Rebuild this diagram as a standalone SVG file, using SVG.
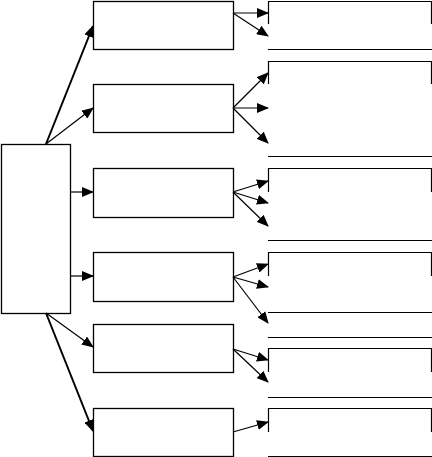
<svg xmlns="http://www.w3.org/2000/svg" width="432" height="457" viewBox="0 0 432 457">
<style>
.box{fill:#fff;stroke:#000;stroke-width:1.3}
.rb{fill:none;stroke:#000;stroke-width:1.2}
.c{fill:none;stroke:#000;stroke-width:1.2;marker-end:url(#ah)}
.t{fill:none;stroke:#000;stroke-width:2;marker-end:url(#ah)}
</style>
<defs>
<marker id="ah" markerUnits="userSpaceOnUse" markerWidth="12" markerHeight="10" viewBox="0 0 12 10" refX="11" refY="5" orient="auto">
<path d="M0,0 L12,5 L0,10 Z" fill="#000"/>
</marker>
</defs>
<rect width="432" height="457" fill="#fff"/>
<g id="root"><rect class="box" x="1.5" y="144.5" width="69" height="169"/></g>
<g id="m1"><rect class="box" x="93.5" y="1.5" width="140" height="48"/></g>
<g id="m2"><rect class="box" x="93.5" y="84.5" width="140" height="48"/></g>
<g id="m3"><rect class="box" x="93.5" y="168.5" width="140" height="49"/></g>
<g id="m4"><rect class="box" x="93.5" y="252.5" width="140" height="49"/></g>
<g id="m5"><rect class="box" x="93.5" y="324.5" width="140" height="48"/></g>
<g id="m6"><rect class="box" x="93.5" y="408.5" width="140" height="48"/></g>
<g id="r1"><path class="rb" d="M268.5,24 V1.5 H431.5 V24 M268,49.5 H432"/></g>
<g id="r2"><path class="rb" d="M268.5,84 V61.5 H431.5 V84 M268,156.5 H432"/></g>
<g id="r3"><path class="rb" d="M268.5,192 V168.5 H431.5 V192 M268,240.5 H432"/></g>
<g id="r4"><path class="rb" d="M268.5,276 V252.5 H431.5 V276 M268,312.5 H432"/></g>
<g id="r5"><path class="rb" d="M268,337.5 H432 M268.5,372 V348.5 H431.5 V372 M268,397.5 H432"/></g>
<g id="r6"><path class="rb" d="M268.5,432 V408.5 H431.5 V432 M268,456.5 H432"/></g>
<g id="connectors">
<line class="t" x1="46" y1="144" x2="93" y2="26"/>
<line class="c" x1="46" y1="144" x2="93" y2="108"/>
<line class="c" x1="70" y1="192" x2="93" y2="192"/>
<line class="c" x1="70" y1="276" x2="93" y2="276"/>
<line class="c" x1="46" y1="313" x2="93" y2="347"/>
<line class="t" x1="46" y1="313" x2="93" y2="431"/>
<line class="c" x1="233" y1="13" x2="268" y2="13"/>
<line class="c" x1="233" y1="13" x2="268" y2="36"/>
<line class="c" x1="233" y1="108" x2="268" y2="73"/>
<line class="c" x1="233" y1="108" x2="268" y2="108"/>
<line class="c" x1="233" y1="108" x2="268" y2="143"/>
<line class="c" x1="233" y1="192" x2="268" y2="181"/>
<line class="c" x1="233" y1="192" x2="268" y2="203"/>
<line class="c" x1="233" y1="192" x2="268" y2="226"/>
<line class="c" x1="233" y1="277" x2="268" y2="264"/>
<line class="c" x1="233" y1="277" x2="268" y2="287"/>
<line class="c" x1="233" y1="277" x2="268" y2="323"/>
<line class="c" x1="233" y1="349" x2="268" y2="360"/>
<line class="c" x1="233" y1="349" x2="268" y2="382"/>
<line class="c" x1="233" y1="432" x2="268" y2="422"/>
</g>
</svg>
